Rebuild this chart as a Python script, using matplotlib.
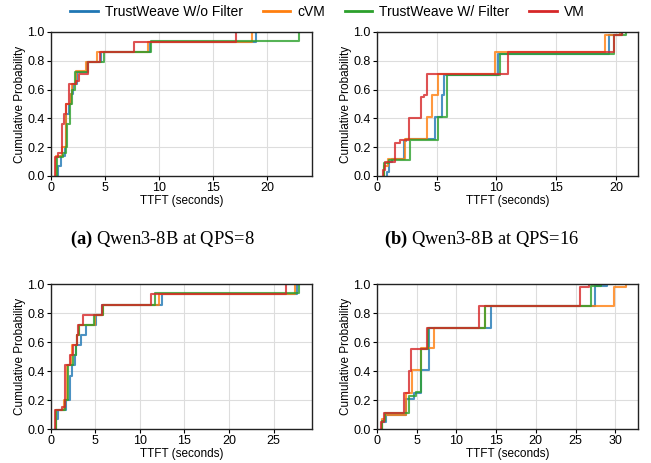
import numpy as np
from matplotlib import pyplot as plt

plt.rcParams['font.family'] = ['Liberation Sans', 'DejaVu Sans']
plt.rcParams['mathtext.fontset'] = 'custom'
plt.rcParams['mathtext.bf'] = 'Liberation Serif:bold'
plt.rcParams['mathtext.rm'] = 'Liberation Serif'

labels = ['TrustWeave W/o Filter', 'cVM', 'TrustWeave W/ Filter', 'VM']
colors = ['#1f77b4', '#ff7f0e', '#2ca02c', '#d62728']

# (a) Qwen3-8B at QPS=8 : step points (TTFT seconds, cumulative probability)
a_wo_t = [0.68, 0.99, 1.33, 1.45, 1.64, 1.9, 2.07, 2.4, 3.33, 4.6, 9.2, 19.0]
a_wo_p = [0.07, 0.14, 0.2, 0.43, 0.5, 0.57, 0.64, 0.72, 0.79, 0.86, 0.93, 1.0]
a_cvm_t = [0.52, 1.08, 1.39, 1.85, 1.95, 2.3, 3.3, 4.26, 9.0, 18.6]
a_cvm_p = [0.14, 0.2, 0.5, 0.57, 0.64, 0.73, 0.79, 0.86, 0.93, 1.0]
a_wf_t = [0.62, 1.1, 1.39, 1.5, 1.76, 2.0, 2.25, 3.46, 4.9, 9.3, 23.0]
a_wf_p = [0.13, 0.16, 0.2, 0.36, 0.5, 0.6, 0.72, 0.79, 0.86, 0.94, 1.0]
a_vm_t = [0.43, 0.68, 1.02, 1.23, 1.45, 1.7, 2.3, 2.6, 3.4, 4.54, 7.7, 17.1]
a_vm_p = [0.13, 0.16, 0.36, 0.43, 0.5, 0.64, 0.66, 0.71, 0.79, 0.86, 0.93, 1.0]

# (b) Qwen3-8B at QPS=16
b_wo_t = [0.85, 1.0, 1.3, 2.24, 2.4, 4.83, 5.45, 5.63, 10.1, 19.45, 20.5]
b_wo_p = [0.03, 0.1, 0.12, 0.24, 0.26, 0.41, 0.56, 0.7, 0.85, 0.98, 1.0]
b_cvm_t = [0.6, 0.9, 2.37, 4.2, 4.58, 5.15, 9.9, 19.1, 20.3]
b_cvm_p = [0.07, 0.12, 0.26, 0.41, 0.56, 0.71, 0.86, 0.98, 1.0]
b_wf_t = [0.6, 0.97, 2.8, 5.12, 5.83, 10.3, 19.8, 20.8]
b_wf_p = [0.09, 0.11, 0.25, 0.41, 0.7, 0.85, 0.98, 1.0]
b_vm_t = [0.48, 0.68, 1.5, 1.9, 2.65, 3.7, 3.9, 4.15, 11.0, 19.8, 20.5]
b_vm_p = [0.04, 0.1, 0.23, 0.25, 0.4, 0.55, 0.56, 0.71, 0.86, 0.98, 1.0]

# (c) lower left panel
c_wo_t = [0.63, 0.82, 1.68, 2.16, 2.35, 2.72, 2.87, 3.36, 3.92, 5.04, 5.78, 12.5, 27.6]
c_wo_p = [0.07, 0.13, 0.2, 0.37, 0.44, 0.51, 0.58, 0.65, 0.72, 0.79, 0.86, 0.93, 1.0]
c_cvm_t = [0.63, 1.5, 1.8, 2.24, 2.43, 2.9, 3.17, 4.96, 5.9, 12.1, 27.4]
c_cvm_p = [0.13, 0.2, 0.44, 0.51, 0.58, 0.65, 0.72, 0.79, 0.86, 0.93, 1.0]
c_wf_t = [0.63, 1.57, 1.94, 2.54, 2.8, 2.99, 3.2, 4.85, 5.86, 11.7, 27.9]
c_wf_p = [0.13, 0.2, 0.44, 0.51, 0.58, 0.65, 0.72, 0.79, 0.86, 0.94, 1.0]
c_vm_t = [0.52, 1.23, 1.57, 2.16, 2.54, 2.9, 3.06, 3.66, 5.7, 11.3, 26.4]
c_vm_p = [0.13, 0.15, 0.44, 0.51, 0.58, 0.65, 0.72, 0.79, 0.86, 0.93, 1.0]

# (d) lower right panel
d_wo_t = [0.7, 1.2, 3.7, 4.7, 5.5, 6.5, 14.4, 27.5, 29.0]
d_wo_p = [0.05, 0.1, 0.21, 0.25, 0.41, 0.7, 0.85, 0.99, 1.0]
d_cvm_t = [0.6, 1.0, 3.6, 4.4, 5.5, 7.2, 13.6, 29.9, 31.3]
d_cvm_p = [0.07, 0.1, 0.25, 0.41, 0.56, 0.7, 0.85, 0.98, 1.0]
d_wf_t = [0.6, 1.0, 4.0, 4.9, 5.5, 6.4, 13.6, 26.9, 28.2]
d_wf_p = [0.06, 0.11, 0.23, 0.26, 0.55, 0.7, 0.85, 0.99, 1.0]
d_vm_t = [0.5, 0.9, 3.45, 4.1, 4.3, 6.3, 12.9, 25.6, 26.7]
d_vm_p = [0.05, 0.11, 0.25, 0.4, 0.55, 0.7, 0.85, 0.98, 1.0]

panels = [
    [(a_wo_t, a_wo_p), (a_cvm_t, a_cvm_p), (a_wf_t, a_wf_p), (a_vm_t, a_vm_p)],
    [(b_wo_t, b_wo_p), (b_cvm_t, b_cvm_p), (b_wf_t, b_wf_p), (b_vm_t, b_vm_p)],
    [(c_wo_t, c_wo_p), (c_cvm_t, c_cvm_p), (c_wf_t, c_wf_p), (c_vm_t, c_vm_p)],
    [(d_wo_t, d_wo_p), (d_cvm_t, d_cvm_p), (d_wf_t, d_wf_p), (d_vm_t, d_vm_p)],
]
x_ticks = [[0, 5, 10, 15, 20], [0, 5, 10, 15, 20],
           [0, 5, 10, 15, 20, 25], [0, 5, 10, 15, 20, 25, 30]]
captions = [(r'$\mathbf{(a)}$', ' Qwen3-8B at QPS=8'),
            (r'$\mathbf{(b)}$', ' Qwen3-8B at QPS=16')]

fig = plt.figure(figsize=(6.51, 4.63), dpi=100)
rects = [[0.078, 0.620, 0.401, 0.311], [0.579, 0.620, 0.401, 0.311],
         [0.078, 0.073, 0.401, 0.313], [0.579, 0.073, 0.401, 0.313]]

for k, series in enumerate(panels):
    ax = fig.add_axes(rects[k])
    tmax = 0
    for i, (t, p) in enumerate(series):
        xs = np.r_[t[0], t]
        ys = np.r_[0, p]
        ax.step(xs, ys, where='post', color=colors[i], lw=1.5,
                alpha=0.8, label=labels[i])
        tmax = max(tmax, max(t))
    ax.set_xlim(0, tmax * 1.05)
    ax.set_ylim(0, 1.0)
    ax.set_xticks(x_ticks[k])
    ax.set_yticks([0, 0.2, 0.4, 0.6, 0.8, 1.0])
    ax.set_yticklabels(['0.0', '0.2', '0.4', '0.6', '0.8', '1.0'])
    ax.tick_params(labelsize=9, length=3, width=0.8, pad=1.5)
    ax.grid(color='#dddddd', linewidth=0.8)
    ax.set_axisbelow(True)
    for s in ax.spines.values():
        s.set_color('#222222')
        s.set_linewidth(1.0)
    ax.set_xlabel('TTFT (seconds)', fontsize=8.5, labelpad=0.5)
    ax.set_ylabel('Cumulative Probability', fontsize=8.5, labelpad=1)

for j, (bold, rest) in enumerate(captions):
    cx = 0.249 + 0.491 * j
    fig.text(cx, 0.482, bold + rest, ha='center', va='center', fontsize=13.3,
             family='Liberation Serif')

leg_handles = [plt.Line2D([], [], color=c, lw=2) for c in colors]
fig.legend(leg_handles, labels, loc='center', bbox_to_anchor=(0.503, 0.974),
           ncol=4, frameon=False, fontsize=10, handlelength=2.0,
           columnspacing=1.4, handletextpad=0.5)

fig.savefig('out.png', dpi=100)
